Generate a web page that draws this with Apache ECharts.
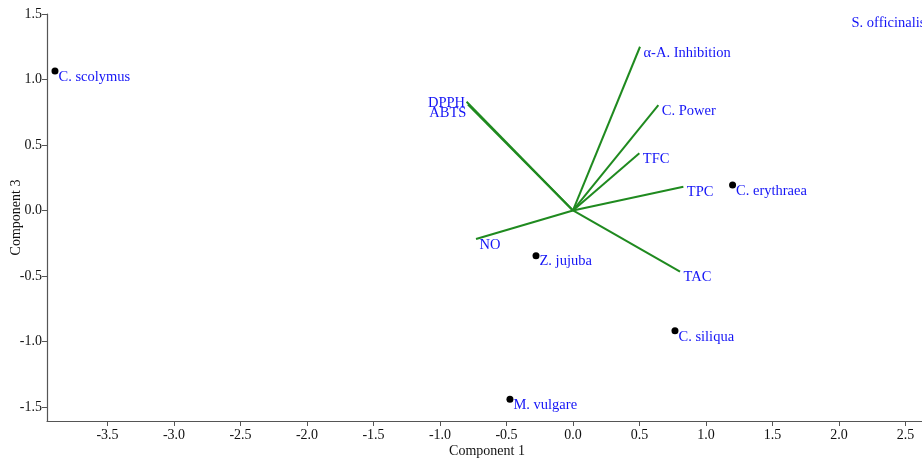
<!DOCTYPE html>
<html><head><meta charset="utf-8">
<script src="https://cdn.jsdelivr.net/npm/echarts@6/dist/echarts.min.js"></script>
<style>html,body{margin:0;padding:0;background:#fff}#c{width:922px;height:459px}</style>
</head><body><div id="c"></div>
<script>
// Sample scores
const sampleNames = ['C. scolymus', 'S. officinalis', 'C. erythraea', 'Z. jujuba', 'C. siliqua', 'M. vulgare'];
const sampleX = [-3.895, 2.068, 1.20, -0.278, 0.767, -0.474];
const sampleY = [1.065, 1.479, 0.195, -0.345, -0.918, -1.441];
// Variable loadings
const loadingNames = ['α-A. Inhibition', 'C. Power', 'TFC', 'TPC', 'TAC', 'NO', 'DPPH', 'ABTS'];
const loadingX = [0.504, 0.642, 0.499, 0.830, 0.805, -0.729, -0.800, -0.790];
const loadingY = [1.250, 0.805, 0.437, 0.182, -0.467, -0.218, 0.830, 0.808];
// Tick labels
const xTicks = [-3.5, -3.0, -2.5, -2.0, -1.5, -1.0, -0.5, 0.0, 0.5, 1.0, 1.5, 2.0, 2.5];
const yTicks = [-1.5, -1.0, -0.5, 0.0, 0.5, 1.0, 1.5];

const FONT = 'Liberation Serif';
const BLUE = '#1414f6';
const GREEN = '#1f8a1f';
const hiddenSymbol = new Set(['S. officinalis']);
const leftLabels = { 'DPPH': [0, 1], 'ABTS': [0, 9] };

const series = [];
loadingNames.forEach((n, i) => {
  series.push({
    type: 'line', name: n, silent: true, symbol: 'none', animation: false,
    lineStyle: { color: GREEN, width: 2 },
    data: [[0, 0], [loadingX[i], loadingY[i]]]
  });
});
series.push({
  type: 'scatter', silent: true, animation: false, symbolSize: 1, clip: false,
  itemStyle: { color: 'rgba(0,0,0,0)', opacity: 1 },
  data: loadingNames.map((n, i) => {
    const d = { name: n, value: [loadingX[i], loadingY[i]] };
    if (leftLabels[n]) d.label = { position: 'left', distance: 1, offset: leftLabels[n] };
    return d;
  }),
  label: { show: true, formatter: p => p.name, position: 'right', distance: 3, offset: [0, 6],
           color: BLUE, fontFamily: FONT, fontSize: 14.5 }
});
series.push({
  type: 'scatter', silent: true, animation: false, symbolSize: 7, clip: false,
  itemStyle: { color: '#000', opacity: 1 },
  data: sampleNames.map((n, i) => {
    const d = { name: n, value: [sampleX[i], sampleY[i]] };
    if (hiddenSymbol.has(n)) d.itemStyle = { color: 'rgba(0,0,0,0)', opacity: 1 };
    return d;
  }),
  label: { show: true, formatter: p => p.name, position: 'right', distance: 0, offset: [0, 6],
           color: BLUE, fontFamily: FONT, fontSize: 14.5 }
});

const axisCommon = {
  type: 'value', splitLine: { show: false },
  axisLine: { show: true, onZero: false, lineStyle: { color: '#555', width: 1.2 } },
  nameLocation: 'middle', nameMoveOverlap: false,
  nameTextStyle: { color: '#111', fontFamily: FONT, fontSize: 14 }
};

const chart = echarts.init(document.getElementById('c'), null, { renderer: 'canvas' });
chart.setOption({
  backgroundColor: '#fff',
  animation: false,
  grid: { left: 47, top: 14, width: 880, height: 407, containLabel: false, outerBoundsMode: 'none' },
  xAxis: Object.assign({}, axisCommon, {
    min: -3.955, max: 2.662, name: 'Component 1', nameGap: 23,
    axisTick: { show: true, length: 5, customValues: xTicks, lineStyle: { color: '#555' } },
    axisLabel: { customValues: xTicks, formatter: v => v.toFixed(1), margin: 7,
                 color: '#111', fontFamily: FONT, fontSize: 14 }
  }),
  yAxis: Object.assign({}, axisCommon, {
    min: -1.607, max: 1.5, name: 'Component 3', nameGap: 24, nameRotate: 90,
    axisTick: { show: true, length: 5, customValues: yTicks, lineStyle: { color: '#555' } },
    axisLabel: { customValues: yTicks, formatter: v => v.toFixed(1), margin: 5,
                 color: '#111', fontFamily: FONT, fontSize: 14 }
  }),
  series: series
});
</script></body></html>
